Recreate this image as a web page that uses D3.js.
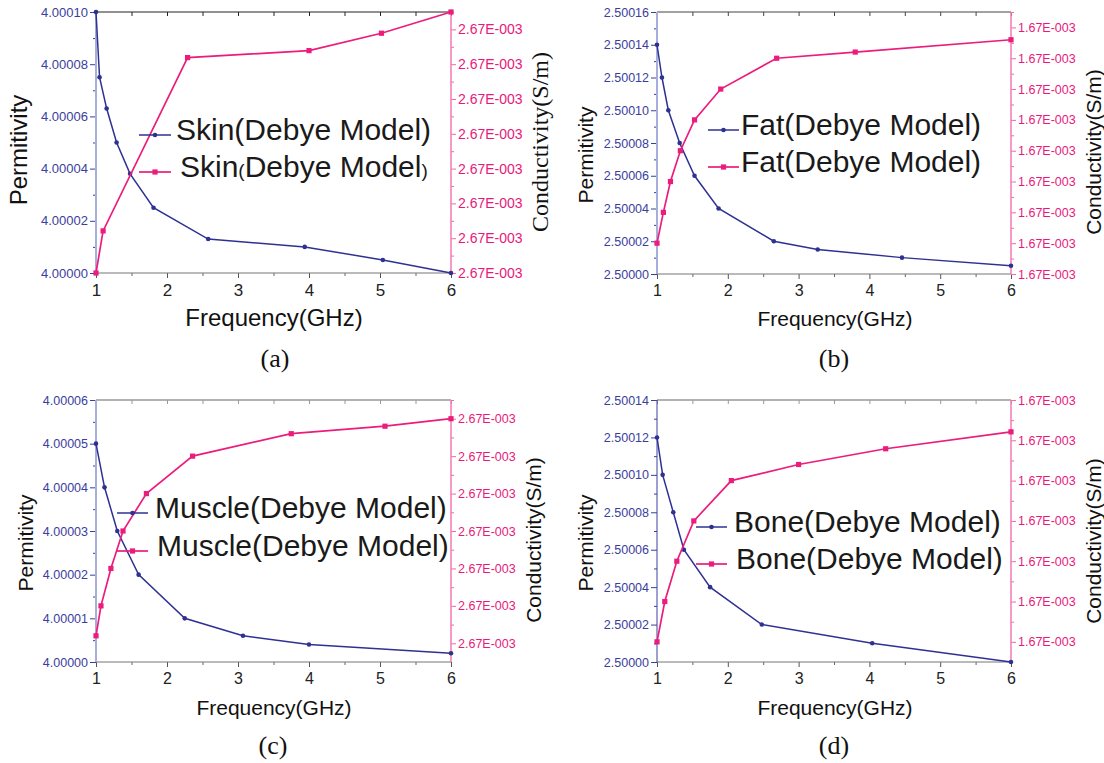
<!DOCTYPE html>
<html>
<head>
<meta charset="utf-8">
<script src="https://cdn.jsdelivr.net/npm/d3@7"></script>
<style>
body { margin: 0; background: #fff; }
</style>
</head>
<body>
<div id="chart"></div>
<script>
// Data
const freqTicks = [1, 2, 3, 4, 5, 6]
const freqMinor = [1.5, 2.5, 3.5, 4.5, 5.5]

// (a) Skin
const skinFreq = [1.00, 1.05, 1.15, 1.29, 1.48, 1.81, 2.58, 3.94, 5.04, 6.00]
const skinPerm = [4.000100, 4.000075, 4.000063, 4.000050, 4.000038, 4.000025, 4.000013, 4.000010, 4.000005, 4.000000]
const skinCondFreq = [1.00, 1.10, 2.29, 4.00, 5.02, 6.00]
const skinCond = [2.6700000e-3, 2.6700121e-3, 2.6700619e-3, 2.6700639e-3, 2.6700689e-3, 2.6700750e-3]
const skinPermTicks = [4.00000, 4.00002, 4.00004, 4.00006, 4.00008, 4.00010]
const skinCondTicks = [2.67000e-3, 2.67001e-3, 2.67002e-3, 2.67003e-3, 2.67004e-3, 2.67005e-3, 2.67006e-3, 2.67007e-3]

// (b) Fat
const fatFreq = [1.00, 1.07, 1.16, 1.32, 1.53, 1.87, 2.65, 3.27, 4.46, 6.00]
const fatPerm = [2.500140, 2.500120, 2.500100, 2.500080, 2.500060, 2.500040, 2.500020, 2.500015, 2.500010, 2.500005]
const fatCondFreq = [1.00, 1.09, 1.19, 1.33, 1.53, 1.90, 2.69, 3.80, 6.00]
const fatCond = [1.670010e-3, 1.670020e-3, 1.670030e-3, 1.670040e-3, 1.670050e-3, 1.670060e-3, 1.670070e-3, 1.670072e-3, 1.670076e-3]
const fatPermTicks = [2.50000, 2.50002, 2.50004, 2.50006, 2.50008, 2.50010, 2.50012, 2.50014, 2.50016]
const fatCondTicks = [1.67000e-3, 1.67001e-3, 1.67002e-3, 1.67003e-3, 1.67004e-3, 1.67005e-3, 1.67006e-3, 1.67007e-3, 1.67008e-3]

// (c) Muscle
const muscleFreq = [1.00, 1.12, 1.30, 1.60, 2.25, 3.07, 4.00, 6.00]
const musclePerm = [4.000050, 4.000040, 4.000030, 4.000020, 4.000010, 4.000006, 4.000004, 4.000002]
const muscleCondFreq = [1.00, 1.07, 1.21, 1.38, 1.71, 2.36, 3.75, 5.07, 6.00]
const muscleCond = [2.670002e-3, 2.670010e-3, 2.670020e-3, 2.670030e-3, 2.670040e-3, 2.670050e-3, 2.670056e-3, 2.670058e-3, 2.670060e-3]
const musclePermTicks = [4.00000, 4.00001, 4.00002, 4.00003, 4.00004, 4.00005, 4.00006]
const muscleCondTicks = [2.67000e-3, 2.67001e-3, 2.67002e-3, 2.67003e-3, 2.67004e-3, 2.67005e-3, 2.67006e-3]

// (d) Bone
const boneFreq = [1.00, 1.08, 1.23, 1.38, 1.75, 2.48, 4.04, 6.00]
const bonePerm = [2.500120, 2.500100, 2.500080, 2.500060, 2.500040, 2.500020, 2.500010, 2.500000]
const boneCondFreq = [1.00, 1.11, 1.28, 1.52, 2.05, 3.00, 4.23, 6.00]
const boneCond = [1.6700000e-3, 1.6700100e-3, 1.6700200e-3, 1.6700300e-3, 1.6700400e-3, 1.6700440e-3, 1.6700479e-3, 1.6700521e-3]
const bonePermTicks = [2.50000, 2.50002, 2.50004, 2.50006, 2.50008, 2.50010, 2.50012, 2.50014]
const boneCondTicks = [1.67000e-3, 1.67001e-3, 1.67002e-3, 1.67003e-3, 1.67004e-3, 1.67005e-3, 1.67006e-3]

// Constants
const width = 1104
const height = 763
const sans = "'Liberation Sans', Arial, sans-serif"
const serif = "'Liberation Serif', 'Times New Roman', serif"
const navy = '#2e3192'
const pink = '#ec1c7c'
const navyText = '#3a3e9c'
const pinkText = '#e8197b'

// Panel layout
const panels = [
    {
        name: 'Skin', label: '(a)', freq: skinFreq, perm: skinPerm, condFreq: skinCondFreq, cond: skinCond,
        permTicks: skinPermTicks, condTicks: skinCondTicks, permStep: 0.00001,
        permDomain: [4.00000, 4.00010], condDomain: [2.67000e-3, 2.670075e-3],
        left: 96, right: 451, top: 12, bottom: 273,
        leftFs: 13, rightFs: 14, xFs: 17, titleFs: 24, condSerif: true,
        permX: 18, permY: 150, condX: 540, condY: 142, freqX: 274, freqY: 317, labX: 275, labY: 358,
        topColor: '#222', leftColor: '#a8aedb', leftW: 2,
        legend: { lx0: 139, lx1: 171, y1: 135, y2: 172, tx1: 176, tx2: 180, smallParens: true }
    },
    {
        name: 'Fat', label: '(b)', freq: fatFreq, perm: fatPerm, condFreq: fatCondFreq, cond: fatCond,
        permTicks: fatPermTicks, condTicks: fatCondTicks, permStep: 0.00001,
        permDomain: [2.50000, 2.50016], condDomain: [1.67000e-3, 1.670085e-3],
        left: 657, right: 1011, top: 12, bottom: 274,
        leftFs: 12.5, rightFs: 12.5, xFs: 16, titleFs: 21, condSerif: false,
        permX: 585, permY: 155, condX: 1093, condY: 152, freqX: 835, freqY: 318, labX: 834, labY: 358,
        topColor: '#444', leftColor: '#a8aedb', leftW: 2,
        legend: { lx0: 708, lx1: 739, y1: 130, y2: 167, tx1: 741, tx2: 741 }
    },
    {
        name: 'Muscle', label: '(c)', freq: muscleFreq, perm: musclePerm, condFreq: muscleCondFreq, cond: muscleCond,
        permTicks: musclePermTicks, condTicks: muscleCondTicks, permStep: 0.000005,
        permDomain: [4.00000, 4.00006], condDomain: [2.669995e-3, 2.670065e-3],
        left: 96, right: 451, top: 400, bottom: 662,
        leftFs: 12.5, rightFs: 12.5, xFs: 16, titleFs: 21, condSerif: false,
        permX: 25, permY: 543, condX: 533, condY: 540, freqX: 274, freqY: 707, labX: 273, labY: 745,
        topColor: '#999', leftColor: '#a8aedb', leftW: 2,
        legend: { lx0: 117, lx1: 148, y1: 513, y2: 551, tx1: 155, tx2: 157 }
    },
    {
        name: 'Bone', label: '(d)', freq: boneFreq, perm: bonePerm, condFreq: boneCondFreq, cond: boneCond,
        permTicks: bonePermTicks, condTicks: boneCondTicks, permStep: 0.00001,
        permDomain: [2.50000, 2.50014], condDomain: [1.669995e-3, 1.670060e-3],
        left: 657, right: 1011, top: 400, bottom: 662,
        leftFs: 12.5, rightFs: 12.5, xFs: 16, titleFs: 21, condSerif: false,
        permX: 585, permY: 543, condX: 1093, condY: 541, freqX: 835, freqY: 707, labX: 834, labY: 745,
        topColor: '#999', leftColor: '#3a42a0', leftW: 1,
        legend: { lx0: 696, lx1: 727, y1: 527, y2: 564, tx1: 734, tx2: 736 }
    }
]

// Scientific labels like 2.67E-003
const sciFormat = v => {
    const parts = v.toExponential(2).split('e')
    const e = parseInt(parts[1], 10)
    return parts[0] + 'E' + (e < 0 ? '-' : '+') + String(Math.abs(e)).padStart(3, '0')
}

const svg = d3.select('#chart')
    .append('svg')
    .attr('width', width)
    .attr('height', height)

const styleAxis = (sel, color, fs, textColor, family) => {
    sel.select('.domain').remove()
    sel.selectAll('line').attr('stroke', color)
    sel.selectAll('text')
        .style('font-size', fs + 'px')
        .style('font-family', family || sans)
        .attr('fill', textColor || color)
}

function drawPanel(p) {
    const x = d3.scaleLinear().domain([1, 6]).range([p.left, p.right])
    const y = d3.scaleLinear().domain(p.permDomain).range([p.bottom, p.top])
    const y2 = d3.scaleLinear().domain(p.condDomain).range([p.bottom, p.top])
    const g = svg.append('g')

    // Minor ticks for the value axes
    const permMinor = d3.range(p.permTicks.length - 1).map(i => p.permTicks[i] + (p.permTicks[i + 1] - p.permTicks[i]) / 2)
    const condMinor = d3.range(p.condTicks.length).map(i => p.condTicks[i] + 0.5e-8)
        .filter(v => v <= p.condDomain[1])

    // Bottom axis
    const xb = g.append('g').attr('transform', `translate(0,${p.bottom})`)
    xb.append('g').call(d3.axisBottom(x).tickValues(freqMinor).tickSize(3).tickFormat(''))
        .call(s => styleAxis(s, '#666', 10))
    xb.append('g').call(d3.axisBottom(x).tickValues(freqTicks).tickSize(5).tickSizeOuter(0)
        .tickPadding(5.5).tickFormat(d3.format('d')))
        .call(s => styleAxis(s, '#555', p.xFs, '#222'))

    // Top axis, ticks inward
    g.append('g').attr('transform', `translate(0,${p.top})`)
        .call(d3.axisTop(x).tickValues(freqTicks.concat(freqMinor)).tickSize(-4).tickFormat(''))
        .call(s => styleAxis(s, p.topColor, 10))

    g.append('line')
        .attr('x1', p.left).attr('x2', p.right)
        .attr('y1', p.bottom).attr('y2', p.bottom)
        .attr('stroke', '#777').attr('stroke-width', 1.2)
    g.append('line')
        .attr('x1', p.left).attr('x2', p.right)
        .attr('y1', p.top).attr('y2', p.top)
        .attr('stroke', p.topColor).attr('stroke-width', p.topColor === '#999' ? 1.6 : 1)

    // Left axis (permittivity)
    const yl = g.append('g').attr('transform', `translate(${p.left},0)`)
    yl.append('g').call(d3.axisLeft(y).tickValues(permMinor).tickSize(3).tickFormat(''))
        .call(s => styleAxis(s, navyText, 10))
    yl.append('g').call(d3.axisLeft(y).tickValues(p.permTicks).tickSize(6).tickPadding(2)
        .tickFormat(d3.format('.5f')))
        .call(s => styleAxis(s, navyText, p.leftFs, navyText))
    g.append('line')
        .attr('x1', p.left).attr('x2', p.left)
        .attr('y1', p.top).attr('y2', p.bottom)
        .attr('stroke', p.leftColor).attr('stroke-width', p.leftW)

    // Right axis (conductivity)
    const yr = g.append('g').attr('transform', `translate(${p.right},0)`)
    yr.append('g').call(d3.axisRight(y2).tickValues(condMinor).tickSize(3).tickFormat(''))
        .call(s => styleAxis(s, '#f06aa8', 10))
    yr.append('g').call(d3.axisRight(y2).tickValues(p.condTicks).tickSize(5).tickPadding(2)
        .tickFormat(sciFormat))
        .call(s => styleAxis(s, '#f06aa8', p.rightFs, pinkText))
    g.append('line')
        .attr('x1', p.right).attr('x2', p.right)
        .attr('y1', p.top).attr('y2', p.bottom)
        .attr('stroke', '#f27ab3').attr('stroke-width', 1.5)

    // Series
    const permData = d3.zip(p.freq, p.perm)
    const condData = d3.zip(p.condFreq, p.cond)

    g.append('path')
        .datum(permData)
        .attr('fill', 'none')
        .attr('stroke', navy)
        .attr('stroke-width', 1.5)
        .attr('d', d3.line().x(d => x(d[0])).y(d => y(d[1])))
    g.selectAll('.perm-dot')
        .data(permData)
        .enter()
        .append('circle')
        .attr('class', 'perm-dot')
        .attr('cx', d => x(d[0]))
        .attr('cy', d => y(d[1]))
        .attr('r', 2.3)
        .attr('fill', navy)

    g.append('path')
        .datum(condData)
        .attr('fill', 'none')
        .attr('stroke', pink)
        .attr('stroke-width', 1.7)
        .attr('d', d3.line().x(d => x(d[0])).y(d => y2(d[1])))
    g.selectAll('.cond-dot')
        .data(condData)
        .enter()
        .append('rect')
        .attr('class', 'cond-dot')
        .attr('x', d => x(d[0]) - 2.6)
        .attr('y', d => y2(d[1]) - 2.6)
        .attr('width', 5.2)
        .attr('height', 5.2)
        .attr('fill', pink)

    // Axis titles
    g.append('text')
        .attr('transform', `translate(${p.permX},${p.permY}) rotate(-90)`)
        .attr('text-anchor', 'middle')
        .attr('dominant-baseline', 'central')
        .style('font-family', sans)
        .style('font-size', p.titleFs + 'px')
        .attr('fill', '#111')
        .text('Permitivity')

    g.append('text')
        .attr('transform', `translate(${p.condX},${p.condY}) rotate(-90)`)
        .attr('text-anchor', 'middle')
        .attr('dominant-baseline', 'central')
        .style('font-family', p.condSerif ? serif : sans)
        .style('font-size', p.titleFs + 'px')
        .attr('fill', '#111')
        .text('Conductivity(S/m)')

    g.append('text')
        .attr('x', p.freqX)
        .attr('y', p.freqY)
        .attr('text-anchor', 'middle')
        .attr('dominant-baseline', 'central')
        .style('font-family', sans)
        .style('font-size', p.titleFs + 'px')
        .attr('fill', '#111')
        .text('Frequency(GHz)')

    g.append('text')
        .attr('x', p.labX)
        .attr('y', p.labY)
        .attr('text-anchor', 'middle')
        .attr('dominant-baseline', 'central')
        .style('font-family', serif)
        .style('font-size', '26px')
        .attr('fill', '#111')
        .text(p.label)

    // Legend
    const L = p.legend
    const rows = [
        { y: L.y1, tx: L.tx1, color: navy, shape: 'circle', small: false },
        { y: L.y2, tx: L.tx2, color: pink, shape: 'square', small: !!L.smallParens }
    ]
    rows.forEach(r => {
        g.append('line')
            .attr('x1', L.lx0).attr('x2', L.lx1)
            .attr('y1', r.y).attr('y2', r.y)
            .attr('stroke', r.color)
            .attr('stroke-width', r.shape === 'circle' ? 1.5 : 1.7)
        const mx = (L.lx0 + L.lx1) / 2
        if (r.shape === 'circle') {
            g.append('circle').attr('cx', mx).attr('cy', r.y).attr('r', 2.3).attr('fill', r.color)
        } else {
            g.append('rect').attr('x', mx - 2.6).attr('y', r.y - 2.6)
                .attr('width', 5.2).attr('height', 5.2).attr('fill', r.color)
        }
        const t = g.append('text')
            .attr('x', r.tx)
            .attr('y', r.y + 5)
            .style('font-family', sans)
            .style('font-size', '30px')
            .attr('fill', '#1a1a1a')
        if (r.small) {
            t.append('tspan').text(p.name)
            t.append('tspan').style('font-size', '19px').text('(')
            t.append('tspan').text('Debye Model')
            t.append('tspan').style('font-size', '19px').text(')')
        } else {
            t.text(p.name + '(Debye Model)')
        }
    })
}

panels.forEach(drawPanel)
</script>
</body>
</html>
